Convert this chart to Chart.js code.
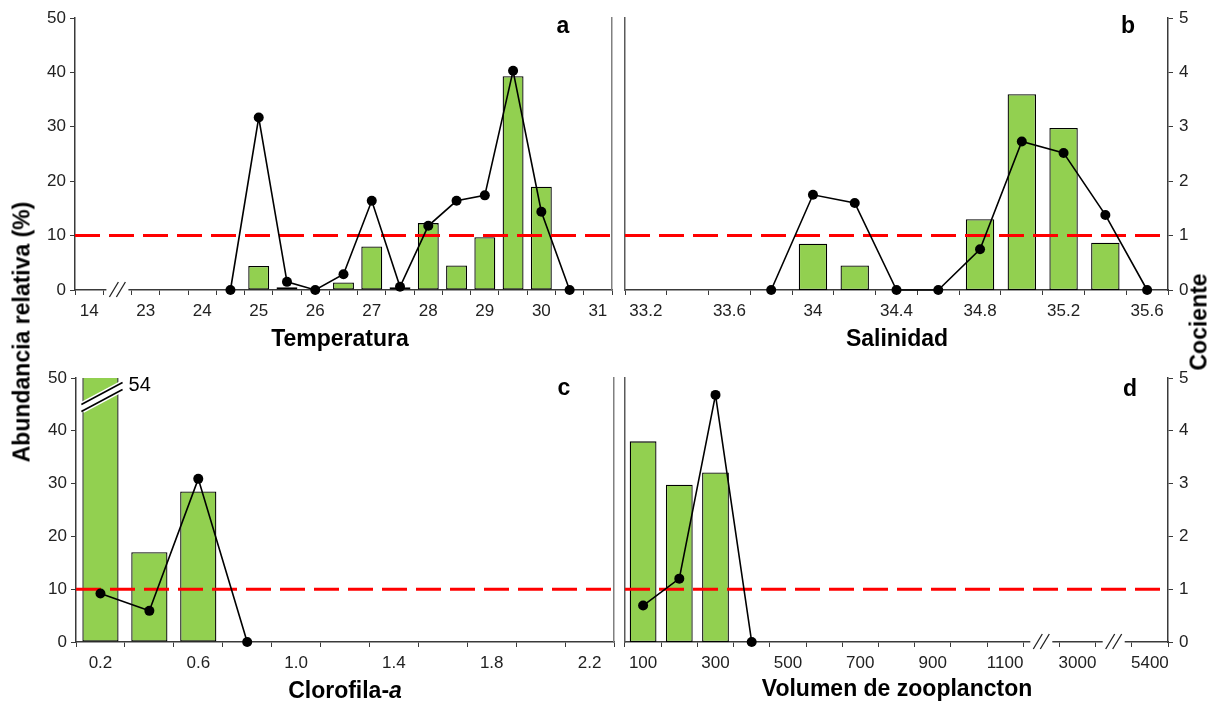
<!DOCTYPE html>
<html>
<head>
<meta charset="utf-8">
<script src="https://cdn.jsdelivr.net/npm/chart.js@4.4.0/dist/chart.umd.min.js"></script>
<style>
  body { margin: 0; background: #fff; }
  #wrap { position: relative; width: 1212px; height: 705px; overflow: hidden;
          font-family: 'Liberation Sans', Arial, sans-serif; color: #000; }
  canvas { position: absolute; }
  .ttl { position: absolute; font-weight: bold; font-size: 23px; line-height: 23px;
         white-space: nowrap; transform: translateX(-50%); }
  .rot { position: absolute; font-weight: bold; font-size: 23px; line-height: 23px;
         white-space: nowrap; transform: translate(-50%, -50%) rotate(-90deg); }
  .let { position: absolute; font-weight: bold; font-size: 23px; line-height: 23px;
         transform: translateX(-50%); }
</style>
</head>
<body>
<div id="wrap">
  <canvas id="chartA"></canvas>
  <canvas id="chartB"></canvas>
  <canvas id="chartC"></canvas>
  <canvas id="chartD"></canvas>

  <div class="ttl" style="left:340px; top:327px;">Temperatura</div>
  <div class="ttl" style="left:897px; top:327px;">Salinidad</div>
  <div class="ttl" style="left:345px; top:679px;">Clorofila-<i>a</i></div>
  <div class="ttl" style="left:897px; top:677px;">Volumen de zooplancton</div>

  <div class="rot" style="left:22px; top:332px;">Abundancia relativa (%)</div>
  <div class="rot" style="left:1199px; top:322px;">Cociente</div>

  <div class="let" style="left:563px; top:14px;">a</div>
  <div class="let" style="left:1128px; top:14px;">b</div>
  <div class="let" style="left:564px; top:376px;">c</div>
  <div class="let" style="left:1130px; top:377px;">d</div>
</div>

<script>
// temperatura (categories every 0.5 degree, 'gap' = axis break)
const tempCats = ['14','gap','23','23.5','24','24.5','25','25.5','26','26.5','27','27.5','28','28.5','29','29.5','30','30.5','31'];
const tempTicks = ['14','','23','','24','','25','','26','','27','','28','','29','','30','','31'];
const tempPct = [null,null,null,null,null,null,4.4,0.5,null,1.4,8.0,0.5,12.3,4.5,9.7,39.3,19.0,null,null];
const tempRatio = [null,null,null,null,null,0,3.17,0.15,0,0.29,1.64,0.06,1.18,1.64,1.74,4.03,1.44,0,null];

// salinidad
const salCats = ['33.2','33.4','33.6','33.8','34','34.2','34.4','34.6','34.8','35','35.2','35.4','35.6'];
const salTicks = ['33.2','','33.6','','34','','34.4','','34.8','','35.2','','35.6'];
const salPct = [null,null,null,null,8.5,4.5,null,null,13.0,36.0,29.8,8.7,null];
const salRatio = [null,null,null,0,1.75,1.60,0,0,0.75,2.73,2.52,1.38,0];

// clorofila-a
const chlCats = ['0.2','0.4','0.6','0.8','1.0','1.2','1.4','1.6','1.8','2.0','2.2'];
const chlTicks = ['0.2','','0.6','','1.0','','1.4','','1.8','','2.2'];
const chlPct = [54,17.0,28.5,null,null,null,null,null,null,null,null];
const chlRatio = [0.92,0.59,3.09,0,null,null,null,null,null,null,null];

// volumen de zooplancton
const zooCats = ['100','200','300','400','500','600','700','800','900','1000','1100','gap','3000','gap','5400'];
const zooTicks = ['100','','300','','500','','700','','900','','1100','','3000','','5400'];
const zooPct = [38.0,29.8,32.1,null,null,null,null,null,null,null,null,null,null,null,null];
const zooRatio = [0.69,1.20,4.68,0,null,null,null,null,null,null,null,null,null,null,null];

const refPct = 10;   // threshold line (10 % = cociente 1)

const FONT = "'Liberation Sans', Arial, sans-serif";
const axisColor = '#3a3a3a';
Chart.defaults.font.family = FONT;

// red dashed threshold, drawn under the cociente line
const refLine = {
    id: 'refLine',
    beforeDatasetDraw(chart, args) {
        if (args.meta.type !== 'line') return;
        const {ctx, chartArea: a, scales: {y}} = chart;
        const py = y.getPixelForValue(refPct);
        ctx.save();
        ctx.strokeStyle = '#ff0000';
        ctx.lineWidth = 3;
        ctx.setLineDash([25, 9]);
        ctx.beginPath();
        ctx.moveTo(a.left, py);
        ctx.lineTo(a.right, py);
        ctx.stroke();
        ctx.restore();
    }
};

// "//" breaks on the x axis
const axisBreaks = {
    id: 'axisBreaks',
    afterDraw(chart) {
        const {ctx, chartArea: a, scales: {x}} = chart;
        chart.data.labels.forEach((c, i) => {
            if (c !== 'gap') return;
            const cx = x.getPixelForValue(i);
            ctx.save();
            ctx.fillStyle = '#fff';
            ctx.fillRect(cx - 11, a.bottom - 3, 22, 6);
            ctx.strokeStyle = '#222';
            ctx.lineWidth = 1.3;
            for (const o of [-3.5, 3.5]) {
                ctx.beginPath();
                ctx.moveTo(cx + o - 4.5, a.bottom + 7);
                ctx.lineTo(cx + o + 4.5, a.bottom - 8);
                ctx.stroke();
            }
            ctx.restore();
        });
    }
};

// bars taller than the axis: cut mark + real value
const overflowBars = {
    id: 'overflowBars',
    afterDatasetsDraw(chart) {
        const {ctx, chartArea: a, scales: {y}} = chart;
        chart.data.datasets.forEach((ds, di) => {
            if (ds.type !== 'bar') return;
            const meta = chart.getDatasetMeta(di);
            ds.data.forEach((v, i) => {
                if (v == null || v <= y.max) return;
                const el = meta.data[i];
                const x0 = el.x - el.width / 2 - 1;
                const x1 = el.x + el.width / 2 + 4;
                const yc = a.top + 19;
                const rise = 11;
                const seg = (dy) => {
                    ctx.beginPath();
                    ctx.moveTo(x0, yc + rise + dy);
                    ctx.lineTo(x1, yc - rise + dy);
                    ctx.stroke();
                };
                ctx.save();
                ctx.strokeStyle = '#fff';
                ctx.lineWidth = 11;
                seg(0);
                ctx.strokeStyle = '#000';
                ctx.lineWidth = 1.6;
                seg(-3.5);
                seg(3.5);
                ctx.fillStyle = '#000';
                ctx.font = '20px ' + FONT;
                ctx.textBaseline = 'middle';
                ctx.textAlign = 'left';
                ctx.fillText(String(v), x1 + 6, a.top + 7);
                ctx.restore();
            });
        });
    }
};

function panel(id, box, area, cats, tickText, pct, ratio, opt) {
    const cv = document.getElementById(id);
    cv.width = box.w;
    cv.height = box.h;
    cv.style.left = box.x + 'px';
    cv.style.top = box.y + 'px';

    const leftW = area.l - box.x;
    const rightW = box.x + box.w - area.r;
    const topPad = area.t - box.y;
    const bottomH = box.y + box.h - area.b;

    const tickFont = {family: FONT, size: 17};

    return new Chart(cv, {
        type: 'bar',
        data: {
            labels: cats,
            datasets: [{
                type: 'line',
                data: ratio,
                yAxisID: 'y1',
                borderColor: '#000',
                borderWidth: 1.6,
                pointRadius: 5,
                pointBackgroundColor: '#000',
                pointBorderWidth: 0,
                tension: 0,
                clip: false,
                order: 0
            }, {
                type: 'bar',
                data: pct,
                yAxisID: 'y',
                backgroundColor: '#92d050',
                borderColor: '#000',
                borderWidth: 1.3,
                borderSkipped: false,
                barPercentage: opt.barPct,
                categoryPercentage: 1,
                clip: 0,
                order: 1
            }]
        },
        options: {
            responsive: false,
            animation: false,
            events: [],
            layout: {padding: {top: topPad, left: 0, right: 0, bottom: 0}},
            plugins: {legend: {display: false}, tooltip: {enabled: false}},
            scales: {
                x: {
                    type: 'category',
                    offset: true,
                    grid: {offset: true, drawOnChartArea: false, tickLength: 5, color: axisColor},
                    border: {color: axisColor, width: 1.5},
                    ticks: {
                        autoSkip: false, maxRotation: 0, padding: 6,
                        font: tickFont, color: '#222',
                        callback: (v, i) => tickText[i]
                    },
                    afterFit: (s) => { s.height = bottomH; }
                },
                y: {
                    position: 'left',
                    min: 0, max: 50,
                    grid: {display: opt.leftLabels, drawOnChartArea: false, tickLength: 5, color: axisColor},
                    border: {color: opt.leftLabels ? axisColor : '#5a5a5a', width: 1.5},
                    ticks: {display: opt.leftLabels, stepSize: 10, padding: 4, font: tickFont, color: '#222'},
                    afterFit: (s) => { s.width = leftW; }
                },
                y1: {
                    position: 'right',
                    min: 0, max: 5,
                    grid: {display: opt.rightLabels, drawOnChartArea: false, tickLength: 5, color: axisColor},
                    border: {color: opt.rightLabels ? axisColor : '#808080', width: 1.5},
                    ticks: {display: opt.rightLabels, stepSize: 1, padding: 6, font: tickFont, color: '#222'},
                    afterFit: (s) => { s.width = rightW; }
                }
            }
        },
        plugins: [refLine, axisBreaks, overflowBars]
    });
}

panel('chartA', {x: 0, y: 0, w: 630, h: 350}, {l: 75, r: 612, t: 18, b: 290},
      tempCats, tempTicks, tempPct, tempRatio, {barPct: 0.74, leftLabels: true, rightLabels: false});

panel('chartB', {x: 612, y: 0, w: 600, h: 350}, {l: 625, r: 1168, t: 18, b: 290},
      salCats, salTicks, salPct, salRatio, {barPct: 0.68, leftLabels: false, rightLabels: true});

panel('chartC', {x: 0, y: 350, w: 630, h: 355}, {l: 76, r: 614, t: 378, b: 642},
      chlCats, chlTicks, chlPct, chlRatio, {barPct: 0.74, leftLabels: true, rightLabels: false});

panel('chartD', {x: 612, y: 350, w: 600, h: 355}, {l: 625, r: 1168, t: 378, b: 642},
      zooCats, zooTicks, zooPct, zooRatio, {barPct: 0.74, leftLabels: false, rightLabels: true});
</script>
</body>
</html>
